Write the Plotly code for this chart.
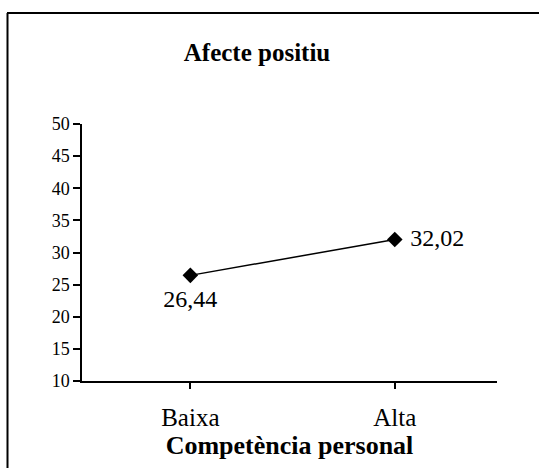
import plotly.graph_objects as go

categories = ["Baixa", "Alta"]
values = [26.44, 32.02]
value_labels = ["26,44", "32,02"]
y_ticks = [10, 15, 20, 25, 30, 35, 40, 45, 50]

SERIF = '"Liberation Serif", "Times New Roman", Times, serif'

W, H = 539, 468
L, R, T, B = 82, 42, 124, 87
pw, ph = W - L - R, H - T - B

def px_x(p):
    return (p - L) / pw

def px_y(p):
    return (H - B - p) / ph

fig = go.Figure()
fig.add_trace(go.Scatter(
    x=categories, y=values, mode="lines+markers",
    line=dict(color="black", width=1.5),
    marker=dict(symbol="diamond", size=12, color="black"),
    cliponaxis=False, showlegend=False, hoverinfo="skip",
))
# value labels (invisible markers set the label offset from the points)
fig.add_trace(go.Scatter(
    x=categories, y=values, mode="markers+text",
    marker=dict(size=[20, 23], opacity=0, color="black"),
    text=value_labels,
    textposition=["bottom center", "middle right"],
    textfont=dict(family=SERIF, size=24, color="black"),
    cliponaxis=False, showlegend=False, hoverinfo="skip",
))

fig.update_layout(
    width=W, height=H,
    margin=dict(l=L, r=R, t=T, b=B),
    paper_bgcolor="white", plot_bgcolor="white",
    font=dict(family=SERIF, color="black"),
    title=dict(text="<b>Afecte positiu</b>", font=dict(family=SERIF, size=25, color="black"),
               xref="paper", x=px_x(257), xanchor="center",
               yref="container", y=1 - 52 / H, yanchor="middle"),
    xaxis=dict(type="category", range=[-0.53, 1.5], showline=True, linecolor="black", linewidth=1.5,
               ticks="outside", ticklen=6, tickcolor="black", tickwidth=1.5,
               showgrid=False, zeroline=False, ticklabelstandoff=7,
               tickfont=dict(family=SERIF, size=25, color="black"),
               title=dict(text="<b>Competència personal</b>", font=dict(family=SERIF, size=26, color="black"),
                          standoff=2)),
    yaxis=dict(range=[10, 50], tickvals=y_ticks, showline=True, linecolor="black", linewidth=1.5,
               ticks="outside", ticklen=7, tickcolor="black", tickwidth=1.5,
               showgrid=False, zeroline=False,
               tickfont=dict(family=SERIF, size=18, color="black")),
    shapes=[
        dict(type="line", xref="paper", yref="paper", x0=px_x(7), x1=px_x(545), y0=px_y(13), y1=px_y(13),
             line=dict(color="black", width=2)),
        dict(type="line", xref="paper", yref="paper", x0=px_x(7.5), x1=px_x(7.5), y0=px_y(13), y1=px_y(475),
             line=dict(color="black", width=2)),
    ],
)

fig.write_html("out.html", config={"displayModeBar": False},
               post_script="document.body.style.margin='0';")
